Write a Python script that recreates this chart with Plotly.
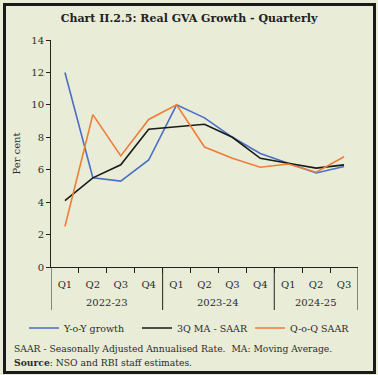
import plotly.graph_objects as go

years = ["2022-23"] * 4 + ["2023-24"] * 4 + ["2024-25"] * 3
quarters = ["Q1", "Q2", "Q3", "Q4", "Q1", "Q2", "Q3", "Q4", "Q1", "Q2", "Q3"]

yoy_growth = [12.0, 5.5, 5.3, 6.6, 10.0, 9.2, 8.0, 7.0, 6.4, 5.8, 6.2]
ma_saar = [4.1, 5.5, 6.3, 8.5, 8.65, 8.8, 8.0, 6.7, 6.4, 6.1, 6.3]
qoq_saar = [2.5, 9.4, 6.85, 9.1, 10.0, 7.4, 6.7, 6.15, 6.35, 5.85, 6.8]

y_ticks = [0, 2, 4, 6, 8, 10, 12, 14]

FONT = "DejaVu Serif"
BG = "#E9ECD7"
TXT = "#2b2b2b"
AX = "#222222"

n = len(quarters)
xi = list(range(n))

fig = go.Figure()
fig.add_trace(go.Scatter(x=xi, y=yoy_growth, mode="lines", name="Y-o-Y growth",
                         line=dict(color="#4A6FC6", width=1.6)))
fig.add_trace(go.Scatter(x=xi, y=ma_saar, mode="lines", name="3Q MA - SAAR",
                         line=dict(color="#1a1a1a", width=1.6)))
fig.add_trace(go.Scatter(x=xi, y=qoq_saar, mode="lines", name="Q-o-Q SAAR",
                         line=dict(color="#EE7D3A", width=1.6)))

W, H = 378, 375
L, R, T, B = 51, 20, 40, 108
pw, ph = W - L - R, H - T - B

def px(xp):
    return (xp - L) / pw

def py(yp):
    return (H - B - yp) / ph

# group boundaries from the year labels
bounds = [-0.5]
groups = []
start = 0
for i in range(1, n + 1):
    if i == n or years[i] != years[start]:
        groups.append((years[start], (start + i - 1) / 2))
        bounds.append(i - 0.5)
        start = i

shapes = [dict(type="line", xref="x", yref="paper", x0=b, x1=b, y0=0, y1=py(310),
               line=dict(color=AX, width=1)) for b in bounds]
shapes.append(dict(type="rect", xref="paper", yref="paper",
                   x0=px(4.5), x1=px(374.5), y0=py(372.5), y1=py(4.5),
                   line=dict(color="#1a1a1a", width=3), fillcolor="rgba(0,0,0,0)", layer="above"))

annotations = [dict(text=g, x=c, xref="x", y=py(302), yref="paper", showarrow=False,
                    xanchor="center", yanchor="middle", font=dict(size=10, color=TXT))
               for g, c in groups]
annotations += [
    dict(text="SAAR - Seasonally Adjusted Annualised Rate.  MA: Moving Average.",
         xref="paper", yref="paper", x=px(12), y=py(348), xanchor="left", yanchor="middle",
         showarrow=False, font=dict(size=9.2, color=TXT)),
    dict(text="<b>Source</b>: NSO and RBI staff estimates.",
         xref="paper", yref="paper", x=px(12), y=py(362), xanchor="left", yanchor="middle",
         showarrow=False, font=dict(size=9.2, color=TXT)),
]

fig.update_layout(
    width=W, height=H,
    margin=dict(l=L, r=R, t=T, b=B, autoexpand=False),
    paper_bgcolor=BG, plot_bgcolor=BG,
    font=dict(family=FONT, size=10, color=TXT),
    title=dict(text="<b>Chart II.2.5: Real GVA Growth - Quarterly</b>",
               x=0.5, xanchor="center", y=1 - 18 / H, yanchor="middle",
               font=dict(family=FONT, size=11, color="#222222")),
    showlegend=True,
    legend=dict(orientation="h", x=px(24), xanchor="left", y=py(328), yanchor="middle",
                bgcolor="rgba(0,0,0,0)", font=dict(size=9.5, color=TXT),
                itemwidth=30, entrywidth=68, entrywidthmode="pixels", tracegroupgap=0),
    xaxis=dict(range=[-0.5, n - 0.5], tickvals=xi, ticktext=quarters, ticks="",
               showline=True, linecolor=AX, linewidth=1,
               ticklabelstandoff=8,
               minor=dict(tickvals=[i + 0.5 for i in range(n - 1)], ticks="outside",
                          ticklen=5, tickcolor=AX, showgrid=False),
               showgrid=False, zeroline=False, fixedrange=True,
               tickfont=dict(size=10, color=TXT)),
    yaxis=dict(range=[0, 14], tickvals=y_ticks, showline=True, linecolor=AX, linewidth=1,
               ticks="outside", ticklen=4, tickcolor=AX, showgrid=False, zeroline=False,
               fixedrange=True,
               tickfont=dict(size=10, color=TXT),
               title=dict(text="Per cent", standoff=8, font=dict(size=10, color=TXT))),
    shapes=shapes,
    annotations=annotations,
)

fig.write_html("out.html", config={"displayModeBar": False},
               post_script="document.body.style.margin='0px';document.body.style.overflow='hidden';")
